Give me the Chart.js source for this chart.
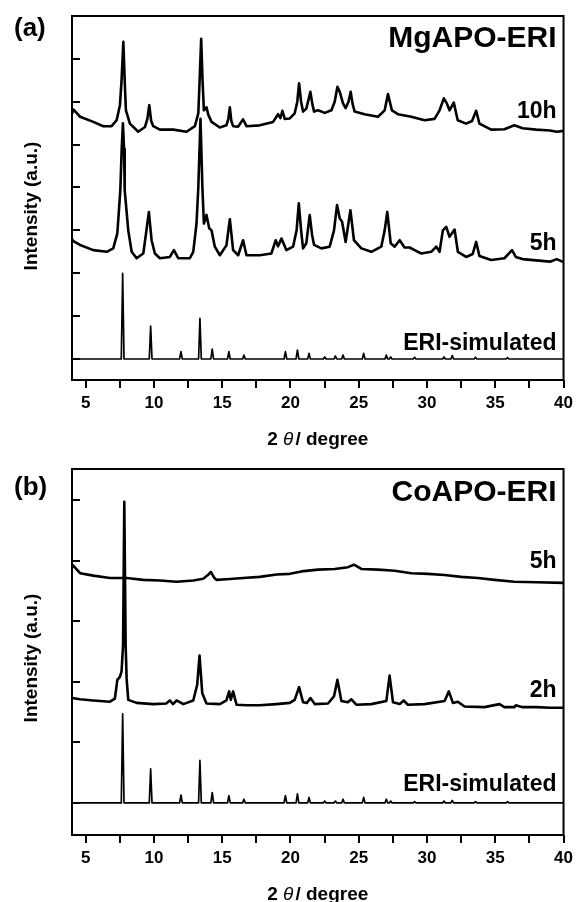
<!DOCTYPE html>
<html><head><meta charset="utf-8">
<script src="https://cdn.jsdelivr.net/npm/chart.js@4.4.1/dist/chart.umd.min.js"></script>
<style>
html,body{margin:0;padding:0;background:#fff;}
#wrap{position:relative;width:578px;height:902px;}
.pane{position:absolute;left:0;width:578px;height:451px;}
canvas{display:block;}
</style></head><body>
<div id="wrap">
<div class="pane" style="top:0"><canvas id="cA" width="578" height="451"></canvas></div>
<div class="pane" style="top:451px"><canvas id="cB" width="578" height="451"></canvas></div>
</div>
<script>
// ---------- tick labels ----------
const xTickValues = [5, 7.5, 10, 12.5, 15, 17.5, 20, 22.5, 25, 27.5, 30, 32.5, 35, 37.5, 40];
const yTicksA = [0, 1, 2, 3, 4, 5, 6, 7];
const yTicksB = [0, 1, 2, 3, 4, 5];
const xTitleParts = ['2 ', 'θ', '/ degree'];
const yTitle = 'Intensity (a.u.)';
const titleA = 'MgAPO-ERI';
const titleB = 'CoAPO-ERI';
const labelsA = ['10h', '5h', 'ERI-simulated'];
const labelsB = ['5h', '2h', 'ERI-simulated'];

// ---------- (a) MgAPO-ERI, 10h ----------
const thetaMg10h = [4.0,4.1,4.59,5.56,6.29,6.9,7.27,7.51,7.63,7.76,7.87,7.95,8.24,8.85,9.34,9.52,9.66,9.8,9.95,10.44,11.42,12.39,13.0,13.25,13.36,13.46,13.56,13.66,13.85,13.98,14.22,14.83,15.31,15.45,15.56,15.67,15.8,16.17,16.53,16.78,17.75,18.73,19.09,19.26,19.41,19.58,19.95,20.31,20.5,20.63,20.78,20.92,21.16,21.46,21.6,21.73,22.02,22.51,23.0,23.24,23.44,23.61,23.85,24.04,24.25,24.41,24.55,24.7,25.43,26.41,26.9,27.14,27.43,27.87,28.85,29.82,30.55,30.92,31.23,31.45,31.65,31.96,32.25,32.86,33.3,33.6,33.84,34.7,35.67,36.4,37.0,38.0,39.0,39.5,40.0];
const intMg10h = [5.72,5.82,5.65,5.53,5.43,5.43,5.57,5.92,6.5,7.40,6.4,5.80,5.49,5.30,5.41,5.6,5.92,5.55,5.43,5.35,5.35,5.30,5.43,5.73,6.6,7.47,6.5,5.80,5.87,5.7,5.53,5.40,5.45,5.6,5.87,5.55,5.43,5.42,5.59,5.43,5.45,5.53,5.71,5.62,5.79,5.6,5.61,5.73,6.0,6.43,6.0,5.77,5.84,6.23,5.95,5.77,5.80,5.74,5.80,6.0,6.35,6.23,5.96,5.85,6.0,6.23,5.95,5.77,5.71,5.65,5.8,6.18,5.8,5.71,5.65,5.57,5.6,5.80,6.08,5.96,5.8,5.98,5.57,5.49,5.55,5.79,5.49,5.35,5.36,5.45,5.38,5.35,5.33,5.30,5.32];

// ---------- (a) MgAPO-ERI, 5h ----------
const thetaMg5h = [4.0,4.1,4.59,5.56,6.54,7.02,7.32,7.54,7.64,7.73,7.81,7.86,8.12,8.37,8.73,9.22,9.41,9.63,9.83,10.07,10.44,11.17,11.46,11.78,12.63,12.88,13.12,13.25,13.41,13.55,13.66,13.85,14.05,14.22,14.46,14.83,15.31,15.56,15.8,16.17,16.53,16.78,17.75,18.6,18.92,19.09,19.34,19.7,20.19,20.45,20.61,20.78,20.92,21.16,21.41,21.58,21.73,22.26,22.87,23.19,23.41,23.61,23.78,24.04,24.39,24.65,25.19,25.92,26.65,26.9,27.09,27.34,27.63,28.0,28.36,28.73,29.09,29.58,30.31,30.68,30.92,31.16,31.41,31.65,32.02,32.26,32.87,33.35,33.6,33.84,34.7,35.67,36.23,36.5,37.0,38.0,39.0,39.5,40.0];
const intMg5h = [2.80,2.75,2.66,2.54,2.50,2.58,2.93,3.94,4.9,5.5,4.9,3.94,3.0,2.50,2.35,2.46,2.9,3.43,2.77,2.46,2.35,2.38,2.54,2.35,2.35,2.50,3.16,4.0,5.6,4.0,3.16,3.36,3.05,3.0,2.62,2.42,2.65,3.26,2.54,2.42,2.77,2.42,2.42,2.46,2.77,2.63,2.81,2.54,2.62,3.0,3.63,3.0,2.58,2.7,3.36,2.9,2.66,2.58,2.62,3.0,3.59,3.28,3.2,2.73,3.47,2.77,2.58,2.50,2.62,3.0,3.43,2.70,2.62,2.77,2.6,2.6,2.54,2.46,2.50,2.62,2.50,3.0,3.08,2.85,3.02,2.50,2.38,2.45,2.73,2.4,2.31,2.35,2.54,2.38,2.33,2.30,2.27,2.33,2.26];

// ---------- ERI simulated stick pattern ----------
const eriSimTheta = [7.71,9.76,11.98,13.37,14.27,15.49,16.59,19.63,20.51,21.36,22.51,23.29,23.85,25.36,27.02,27.34,29.09,31.24,31.85,33.55,35.9];
const eriSimIntA = [2.0,0.77,0.17,0.95,0.23,0.17,0.09,0.17,0.21,0.13,0.05,0.07,0.09,0.13,0.09,0.05,0.04,0.05,0.08,0.04,0.03];
const eriSimIntB = [1.47,0.56,0.13,0.70,0.17,0.12,0.06,0.12,0.15,0.09,0.03,0.03,0.06,0.09,0.06,0.03,0.02,0.03,0.04,0.02,0.02];

// ---------- (b) CoAPO-ERI, 5h ----------
const thetaCo5h = [4.0,4.08,4.59,5.56,6.78,8.0,9.22,10.44,11.66,12.88,13.61,13.95,14.17,14.4,14.58,15.31,16.53,17.75,18.97,19.95,20.8,22.02,23.24,24.21,24.65,25.19,26.41,27.63,28.85,30.07,31.29,32.5,33.72,34.94,36.4,38.0,40.0];
const intCo5h = [3.88,3.92,3.79,3.75,3.71,3.71,3.68,3.67,3.65,3.67,3.70,3.76,3.81,3.72,3.68,3.69,3.71,3.73,3.77,3.78,3.82,3.85,3.86,3.89,3.93,3.86,3.85,3.83,3.79,3.78,3.76,3.73,3.71,3.68,3.65,3.64,3.63];

// ---------- (b) CoAPO-ERI, 2h ----------
const thetaCo2h = [4.0,4.59,5.56,6.78,7.14,7.32,7.51,7.63,7.74,7.83,7.93,8.0,8.12,8.73,9.95,10.9,11.17,11.4,11.66,12.15,12.88,13.17,13.34,13.54,13.85,14.83,15.31,15.51,15.63,15.8,16.05,16.78,17.75,18.97,19.95,20.31,20.63,20.92,21.2,21.46,21.78,22.75,23.19,23.44,23.73,24.2,24.46,24.82,25.92,27.02,27.26,27.51,28.0,28.29,28.6,29.82,31.29,31.6,31.9,32.26,32.75,34.21,35.31,35.67,36.4,36.5,37.0,38.0,39.0,40.0];
const intCo2h = [1.73,1.71,1.69,1.67,1.72,2.03,2.08,2.17,2.6,4.97,2.6,2.05,1.70,1.65,1.63,1.64,1.69,1.63,1.69,1.63,1.69,1.95,2.43,1.81,1.64,1.63,1.69,1.84,1.70,1.84,1.62,1.61,1.61,1.63,1.65,1.70,1.91,1.66,1.65,1.73,1.63,1.64,1.76,2.03,1.68,1.66,1.71,1.62,1.63,1.68,2.10,1.66,1.63,1.69,1.62,1.63,1.68,1.84,1.65,1.67,1.59,1.58,1.63,1.58,1.58,1.61,1.58,1.58,1.57,1.57];

// ---------- helpers ----------
const FONT = '"Liberation Sans", Arial, Helvetica, sans-serif';
function pts(xs, ys) { return xs.map((x, i) => ({ x: x, y: ys[i] })); }
function sticks(pos, h) {
  const out = [{ x: 4, y: 0 }];
  pos.forEach((p, i) => { out.push({ x: p - 0.1, y: 0 }, { x: p, y: h[i] }, { x: p + 0.1, y: 0 }); });
  out.push({ x: 40, y: 0 });
  return out;
}
function ds(data, w) { return { data: data, borderColor: '#000', borderWidth: w, pointRadius: 0, fill: false, tension: 0, borderJoinStyle: 'round' }; }

const framePlugin = {
  id: 'frame',
  afterDraw(chart, args, o) {
    const ctx = chart.ctx, a = chart.chartArea, ys = chart.scales.y;
    ctx.save();
    ctx.strokeStyle = '#000'; ctx.lineWidth = 2;
    ctx.strokeRect(a.left, a.top, a.right - a.left, a.bottom - a.top);
    o.yTicks.forEach(v => {
      const y = Math.round(ys.getPixelForValue(v));
      ctx.beginPath(); ctx.moveTo(a.left, y); ctx.lineTo(a.left + 8, y); ctx.stroke();
    });
    ctx.fillStyle = '#000';
    ctx.textAlign = 'right'; ctx.textBaseline = 'alphabetic';
    ctx.font = 'bold 30px ' + FONT;
    ctx.fillText(o.title, a.right - 7, ys.getPixelForValue(o.titleAt));
    ctx.font = 'bold 23px ' + FONT;
    o.labels.forEach((t, i) => ctx.fillText(t, a.right - 7, ys.getPixelForValue(o.labelAt[i])));
    ctx.textAlign = 'left';
    ctx.font = 'bold 26px ' + FONT;
    ctx.fillText(o.panel, 14, a.top + o.panelDy);
    // y title
    ctx.save();
    ctx.translate(32, a.top + o.yTitleDy);
    ctx.rotate(-Math.PI / 2);
    ctx.textAlign = 'center'; ctx.textBaseline = 'middle';
    ctx.font = 'bold 19px ' + FONT;
    ctx.fillText(yTitle, 0, 0);
    ctx.restore();
    // x title with italic theta
    const fonts = ['bold 19px ' + FONT, 'italic 19px ' + FONT, 'bold 19px ' + FONT];
    const widths = xTitleParts.map((t, i) => { ctx.font = fonts[i]; return ctx.measureText(t).width; });
    const total = widths.reduce((s, w) => s + w, 0) + 2;
    let x = (a.left + a.right) / 2 - total / 2;
    const by = a.bottom + 65;
    ctx.textAlign = 'left'; ctx.textBaseline = 'alphabetic';
    xTitleParts.forEach((t, i) => { ctx.font = fonts[i]; ctx.fillText(t, x, by); x += widths[i] + (i === 1 ? 2 : 0); });
    ctx.restore();
  }
};

function makeChart(id, datasets, yMin, yMax, axisH, topPad, opts) {
  return new Chart(document.getElementById(id), {
    type: 'line',
    data: { datasets: datasets },
    options: {
      responsive: false, animation: false, devicePixelRatio: 1,
      layout: { padding: { top: topPad, right: 14, left: 0, bottom: 0 } },
      plugins: { legend: { display: false }, tooltip: { enabled: false }, frame: opts },
      elements: { point: { radius: 0 }, line: { tension: 0 } },
      scales: {
        x: {
          type: 'linear', min: 4, max: 40,
          afterBuildTicks: s => { s.ticks = xTickValues.map(v => ({ value: v })); },
          afterFit: s => { s.height = axisH; },
          ticks: {
            autoSkip: false, maxRotation: 0, minRotation: 0, color: '#000', padding: 5,
            font: { family: FONT, size: 17, weight: 'bold' },
            callback: v => (v % 5 === 0 ? String(v) : '')
          },
          grid: { display: true, drawOnChartArea: false, drawTicks: true, tickLength: 8, color: '#000', lineWidth: 2 },
          border: { display: false }
        },
        y: {
          type: 'linear', min: yMin, max: yMax,
          afterFit: s => { s.width = 72; },
          ticks: { display: false }, grid: { display: false }, border: { display: false }
        }
      }
    },
    plugins: [framePlugin]
  });
}

makeChart('cA', [
  ds(pts(thetaMg10h, intMg10h), 2.6),
  ds(pts(thetaMg5h, intMg5h), 2.6),
  ds(sticks(eriSimTheta, eriSimIntA), 1.7)
], -0.49, 8.0, 71, 16, {
  yTicks: yTicksA, title: titleA, titleAt: 7.28, labels: labelsA, labelAt: [5.61, 2.54, 0.21],
  panel: '(a)', panelDy: 20, yTitleDy: 190
});

makeChart('cB', [
  ds(pts(thetaCo5h, intCo5h), 2.6),
  ds(pts(thetaCo2h, intCo2h), 2.6),
  ds(sticks(eriSimTheta, eriSimIntB), 1.7)
], -0.53, 5.51, 67, 18, {
  yTicks: yTicksB, title: titleB, titleAt: 4.975, labels: labelsB, labelAt: [3.88, 1.75, 0.19],
  panel: '(b)', panelDy: 25.5, yTitleDy: 189
});
</script>
</body></html>
